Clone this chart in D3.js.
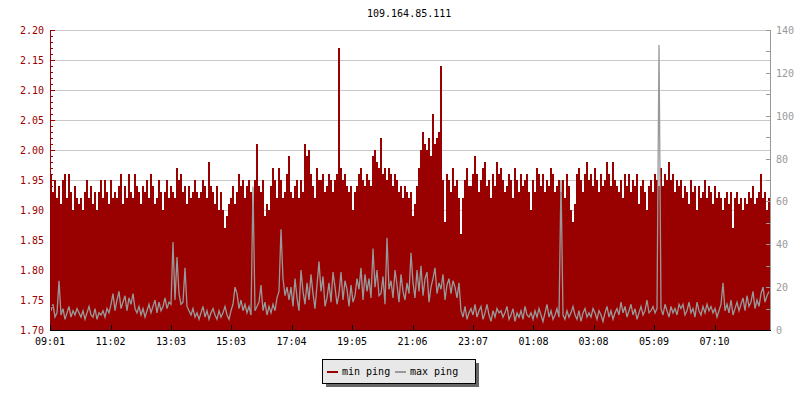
<!DOCTYPE html>
<html>
<head>
<meta charset="utf-8">
<script src="https://cdn.jsdelivr.net/npm/d3@7"></script>
<style>
  html, body { margin: 0; padding: 0; background: #fff; }
  svg { display: block; }
  text { font-family: "DejaVu Sans Mono", "Liberation Mono", monospace; font-size: 10px; }
</style>
</head>
<body>
<svg id="chart" width="800" height="400"></svg>
<script>
// ---- data ----
const title = "109.164.85.111";
const startTime = "09:01";
const stepMinutes = 4;
const seriesNames = ["min ping", "max ping"];
const tickLabels = ["09:01","11:02","13:03","15:03","17:04","19:05","21:06","23:07","01:08","03:08","05:09","07:10"];
const leftTicks = [1.70,1.75,1.80,1.85,1.90,1.95,2.00,2.05,2.10,2.15,2.20];
const rightTicks = [0,20,40,60,80,100,120,140];

// min ping (left axis)
const minPing = [
 1.96,1.93,1.95,1.92,1.94,1.91,1.95,1.96,1.92,1.96,1.93,1.90,1.94,1.92,1.91,
 1.92,1.90,1.93,1.95,1.92,1.94,1.91,1.93,1.90,1.93,1.95,1.92,1.95,1.93,1.91,
 1.95,1.92,1.93,1.92,1.94,1.96,1.91,1.94,1.92,1.96,1.93,1.92,1.96,1.94,1.93,
 1.91,1.94,1.93,1.95,1.92,1.96,1.94,1.91,1.92,1.95,1.93,1.90,1.93,1.95,1.92,
 1.94,1.93,1.92,1.97,1.95,1.96,1.93,1.94,1.91,1.94,1.92,1.93,1.95,1.93,1.92,
 1.93,1.95,1.94,1.92,1.98,1.94,1.93,1.91,1.94,1.90,1.93,1.90,1.87,1.89,1.91,
 1.92,1.94,1.91,1.93,1.96,1.94,1.95,1.92,1.94,1.95,1.93,1.90,1.95,2.01,1.94,
 1.93,1.95,1.89,1.91,1.90,1.94,1.97,1.95,1.92,1.97,1.95,1.92,1.93,1.96,1.99,
 1.93,1.92,1.94,1.95,1.92,1.95,1.93,2.01,1.99,2.00,1.96,1.94,1.92,1.97,1.95,
 1.95,1.96,1.93,1.94,1.96,1.95,1.93,1.95,1.96,2.17,1.97,1.95,1.96,1.94,1.93,
 1.94,1.90,1.93,1.94,1.96,1.97,1.95,1.94,1.96,1.95,1.94,1.99,2.00,1.98,1.97,
 2.02,1.96,1.97,1.95,1.97,1.96,1.94,1.96,1.95,1.93,1.94,1.92,1.94,1.93,1.92,
 1.93,1.89,1.91,1.94,1.97,2.00,2.03,2.01,2.00,2.02,1.99,2.06,2.01,2.02,2.03,
 2.14,1.95,1.88,1.96,1.95,1.93,1.97,1.94,1.95,1.92,1.86,1.92,1.95,1.97,1.94,
 1.94,1.96,1.99,1.96,1.93,1.95,1.97,1.98,1.94,1.95,1.92,1.96,1.94,1.98,1.96,
 1.97,1.95,1.93,1.94,1.96,1.95,1.92,1.97,1.95,1.93,1.96,1.94,1.95,1.96,1.93,
 1.90,1.95,1.93,1.97,1.96,1.94,1.96,1.93,1.95,1.94,1.97,1.96,1.93,1.94,1.95,
 1.93,1.95,1.92,1.96,1.94,1.90,1.88,1.91,1.96,1.97,1.95,1.93,1.96,1.98,1.95,
 1.96,1.94,1.97,1.95,1.93,1.96,1.94,1.95,1.98,1.96,1.94,1.98,1.95,1.94,1.93,
 1.95,1.92,1.96,1.94,1.96,1.93,1.95,1.94,1.96,1.91,1.94,1.95,1.93,1.90,1.94,
 1.95,1.93,1.96,1.95,1.94,1.97,1.94,1.96,1.95,1.98,1.95,1.96,1.93,1.95,1.94,
 1.95,1.92,1.94,1.93,1.91,1.95,1.93,1.94,1.90,1.94,1.92,1.93,1.95,1.92,1.94,
 1.93,1.91,1.94,1.92,1.93,1.92,1.90,1.92,1.93,1.91,1.93,1.87,1.92,1.93,1.91,
 1.92,1.90,1.92,1.91,1.93,1.92,1.94,1.91,1.92,1.93,1.96,1.92,1.93,1.90,1.92
];

// max ping (right axis)
const maxPing = [
 9,12,6,8,23,7,10,5,8,11,6,9,7,10,8,
 6,9,5,8,11,7,6,10,5,8,7,9,6,10,8,
 12,17,9,14,18,10,13,16,9,15,12,17,10,8,11,
 7,10,6,9,12,8,11,14,8,13,9,11,15,10,13,
 12,41,14,34,17,12,13,29,11,9,7,10,6,8,5,
 8,11,6,9,5,8,10,7,5,9,6,8,11,7,5,
 9,12,20,17,10,14,9,12,8,11,7,67,9,11,13,
 21,9,13,7,11,8,12,9,15,18,47,24,16,20,14,
 20,11,24,15,9,28,18,12,22,14,26,17,10,21,32,
 18,25,11,15,22,13,27,20,12,17,27,14,23,19,11,
 21,13,16,24,19,29,14,26,18,24,15,38,20,28,16,
 17,25,12,43,19,23,15,28,21,13,26,18,14,22,17,
 36,22,15,28,18,30,16,24,27,13,20,24,29,17,22,
 19,26,14,21,24,17,23,20,15,22,9,6,11,5,8,
 10,7,12,6,9,11,5,8,12,7,4,9,6,10,8,
 9,6,8,11,5,7,10,4,8,6,9,5,11,7,6,
 8,5,9,6,10,7,4,8,12,6,9,5,7,10,6,
 70,7,5,9,6,8,11,7,5,9,4,8,10,6,8,
 6,10,8,5,9,7,4,8,11,6,9,5,8,10,7,
 13,8,11,6,9,12,7,10,5,8,11,7,9,14,8,
 9,11,8,10,133,10,7,12,9,6,11,8,10,7,12,
 10,12,7,9,13,8,10,6,13,9,7,11,8,12,9,
 11,8,10,6,9,12,22,9,12,8,14,7,10,13,9,
 12,15,9,16,11,13,18,10,14,11,17,20,13,16,18
];

// ---- layout ----
const L = 50, R = 770, T = 30, B = 330;
const RED = "#990000", GRAY = "#999999";

const svg = d3.select("#chart");

const toMin = s => { const [h, m] = s.split(":").map(Number); return h * 60 + m; };
const start = toMin(startTime);
const offset = s => (toMin(s) - start + 1440) % 1440;

const total = minPing.length * stepMinutes;
const x = d3.scaleLinear().domain([0, total]).range([L, R]);
const yL = d3.scaleLinear().domain([1.70, 2.20]).range([B, T]);
const yR = d3.scaleLinear().domain([0, 140]).range([B, T]);

// title
svg.append("text").attr("x", 367).attr("y", 17).attr("fill", "#000").text(title);

// gridlines
svg.append("g").attr("shape-rendering", "crispEdges").selectAll("line").data(leftTicks).join("line")
  .attr("x1", L).attr("x2", R)
  .attr("y1", d => Math.round(yL(d)) + 0.5).attr("y2", d => Math.round(yL(d)) + 0.5)
  .attr("stroke", "#c8c8c8").attr("stroke-width", 1);

// min ping bars
svg.append("g").attr("shape-rendering", "crispEdges").selectAll("rect").data(minPing).join("rect")
  .attr("x", (d, i) => x(i * stepMinutes))
  .attr("width", (d, i) => x((i + 1) * stepMinutes) - x(i * stepMinutes))
  .attr("y", d => yL(d))
  .attr("height", d => B - yL(d))
  .attr("fill", RED);

// max ping line
const line = d3.line()
  .x((d, i) => x(i * stepMinutes + stepMinutes / 2))
  .y(d => yR(d));
svg.append("path").datum(maxPing)
  .attr("d", line)
  .attr("fill", "none").attr("stroke", GRAY).attr("stroke-width", 1.3);

// left axis
const gl = svg.append("g").attr("shape-rendering", "crispEdges");
gl.append("line").attr("x1", L + 0.5).attr("x2", L + 0.5).attr("y1", T).attr("y2", B).attr("stroke", RED);
const leftMinor = d3.range(170, 221).map(v => v / 100);
gl.selectAll("line.mn").data(leftMinor).join("line").attr("class", "mn")
  .attr("x1", L).attr("x2", L + 3)
  .attr("y1", d => Math.round(yL(d)) + 0.5).attr("y2", d => Math.round(yL(d)) + 0.5)
  .attr("stroke", RED);
gl.selectAll("line.mj").data(leftTicks).join("line").attr("class", "mj")
  .attr("x1", L).attr("x2", L + 5)
  .attr("y1", d => Math.round(yL(d)) + 0.5).attr("y2", d => Math.round(yL(d)) + 0.5)
  .attr("stroke", RED);
svg.append("g").selectAll("text").data(leftTicks).join("text")
  .attr("x", 44).attr("y", d => yL(d) + 4)
  .attr("text-anchor", "end").attr("fill", RED)
  .text(d => d3.format(".2f")(d));

// right axis
const gr = svg.append("g").attr("shape-rendering", "crispEdges");
gr.append("line").attr("x1", R + 0.5).attr("x2", R + 0.5).attr("y1", T).attr("y2", B).attr("stroke", GRAY);
const rightMinor = d3.range(0, 141, 10);
gr.selectAll("line.rt").data(rightMinor).join("line").attr("class", "rt")
  .attr("x1", R - 4).attr("x2", R)
  .attr("y1", d => Math.round(yR(d)) + 0.5).attr("y2", d => Math.round(yR(d)) + 0.5)
  .attr("stroke", GRAY);
svg.append("g").selectAll("text").data(rightTicks).join("text")
  .attr("x", 776).attr("y", d => yR(d) + 4)
  .attr("text-anchor", "start").attr("fill", GRAY)
  .text(d => d);

// x axis
const gx = svg.append("g").attr("shape-rendering", "crispEdges");
gx.append("line").attr("x1", L).attr("x2", R + 1).attr("y1", B + 0.5).attr("y2", B + 0.5).attr("stroke", "#000");
gx.selectAll("line.xt").data(tickLabels).join("line").attr("class", "xt")
  .attr("x1", d => Math.round(x(offset(d))) + 0.5).attr("x2", d => Math.round(x(offset(d))) + 0.5)
  .attr("y1", B - 5).attr("y2", B)
  .attr("stroke", "#000");
svg.append("g").selectAll("text").data(tickLabels).join("text")
  .attr("x", d => x(offset(d))).attr("y", 345)
  .attr("text-anchor", "middle").attr("fill", "#000")
  .text(d => d);

// legend
const lg = svg.append("g").attr("shape-rendering", "crispEdges");
lg.append("rect").attr("x", 326).attr("y", 363).attr("width", 153).attr("height", 24).attr("fill", "#666");
lg.append("rect").attr("x", 322.5).attr("y", 359.5).attr("width", 153).attr("height", 24)
  .attr("fill", "#e8e8e8").attr("stroke", "#000");
const legendColors = [RED, GRAY];
const legendX = [327, 395];
seriesNames.forEach((name, k) => {
  lg.append("rect").attr("x", legendX[k]).attr("y", 371).attr("width", 11).attr("height", 2).attr("fill", legendColors[k]);
  svg.append("text").attr("x", legendX[k] + 15).attr("y", 375).attr("fill", "#000").text(name);
});
</script>
</body>
</html>
